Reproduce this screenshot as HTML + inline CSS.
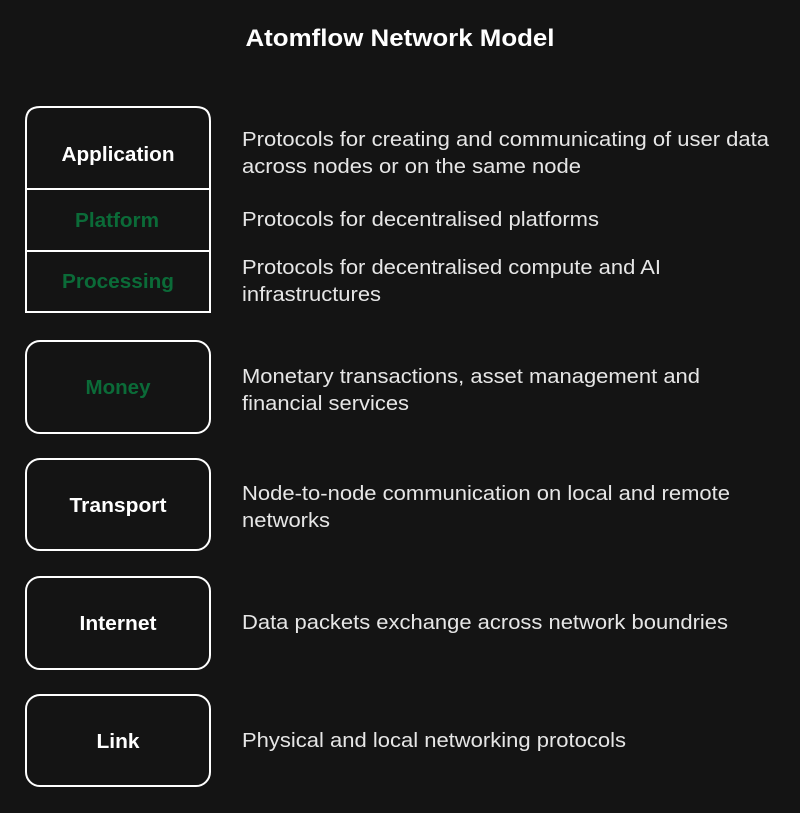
<!DOCTYPE html>
<html><head><meta charset="utf-8"><style>
html,body{margin:0;padding:0;background:#141414;}
svg{display:block}
text{font-family:"Liberation Sans",Arial,sans-serif}
.l{font-weight:bold;font-size:20px;fill:#fff;text-anchor:middle}
.g{fill:#0b6b38}
.d{font-size:20.5px;fill:#e6e6e6}
</style></head><body>
<svg width="800" height="813" viewBox="0 0 800 813">
<rect width="800" height="813" fill="#141414"/>
<text x="400" y="46" text-anchor="middle" font-weight="bold" font-size="24" fill="#fff" textLength="309" lengthAdjust="spacingAndGlyphs">Atomflow Network Model</text>
<g fill="none" stroke="#fff" stroke-width="2">
<path d="M26,189 V121 Q26,107 40,107 H196 Q210,107 210,121 V189 Z"/>
<rect x="26" y="189" width="184" height="62"/>
<rect x="26" y="251" width="184" height="61"/>
<rect x="26" y="341" width="184" height="92" rx="14"/>
<rect x="26" y="459" width="184" height="91" rx="14"/>
<rect x="26" y="577" width="184" height="92" rx="14"/>
<rect x="26" y="695" width="184" height="91" rx="14"/>
</g>
<g lengthAdjust="spacingAndGlyphs">
<text class="l" x="118" y="161" textLength="113" lengthAdjust="spacingAndGlyphs">Application</text>
<text class="l g" x="117" y="227" textLength="84" lengthAdjust="spacingAndGlyphs">Platform</text>
<text class="l g" x="118" y="288" textLength="112" lengthAdjust="spacingAndGlyphs">Processing</text>
<text class="l g" x="118" y="394" textLength="65" lengthAdjust="spacingAndGlyphs">Money</text>
<text class="l" x="118" y="512" textLength="97" lengthAdjust="spacingAndGlyphs">Transport</text>
<text class="l" x="118" y="630" textLength="77" lengthAdjust="spacingAndGlyphs">Internet</text>
<text class="l" x="118" y="748" textLength="43" lengthAdjust="spacingAndGlyphs">Link</text>
</g>
<text class="d" x="242" y="146" textLength="527" lengthAdjust="spacingAndGlyphs">Protocols for creating and communicating of user data</text>
<text class="d" x="242" y="173" textLength="339" lengthAdjust="spacingAndGlyphs">across nodes or on the same node</text>
<text class="d" x="242" y="226" textLength="357" lengthAdjust="spacingAndGlyphs">Protocols for decentralised platforms</text>
<text class="d" x="242" y="274" textLength="419" lengthAdjust="spacingAndGlyphs">Protocols for decentralised compute and AI</text>
<text class="d" x="242" y="301" textLength="139" lengthAdjust="spacingAndGlyphs">infrastructures</text>
<text class="d" x="242" y="383" textLength="458" lengthAdjust="spacingAndGlyphs">Monetary transactions, asset management and</text>
<text class="d" x="242" y="410" textLength="167" lengthAdjust="spacingAndGlyphs">financial services</text>
<text class="d" x="242" y="500" textLength="488" lengthAdjust="spacingAndGlyphs">Node-to-node communication on local and remote</text>
<text class="d" x="242" y="527" textLength="88" lengthAdjust="spacingAndGlyphs">networks</text>
<text class="d" x="242" y="629" textLength="486" lengthAdjust="spacingAndGlyphs">Data packets exchange across network boundries</text>
<text class="d" x="242" y="747" textLength="384" lengthAdjust="spacingAndGlyphs">Physical and local networking protocols</text>
</svg>
</body></html>
